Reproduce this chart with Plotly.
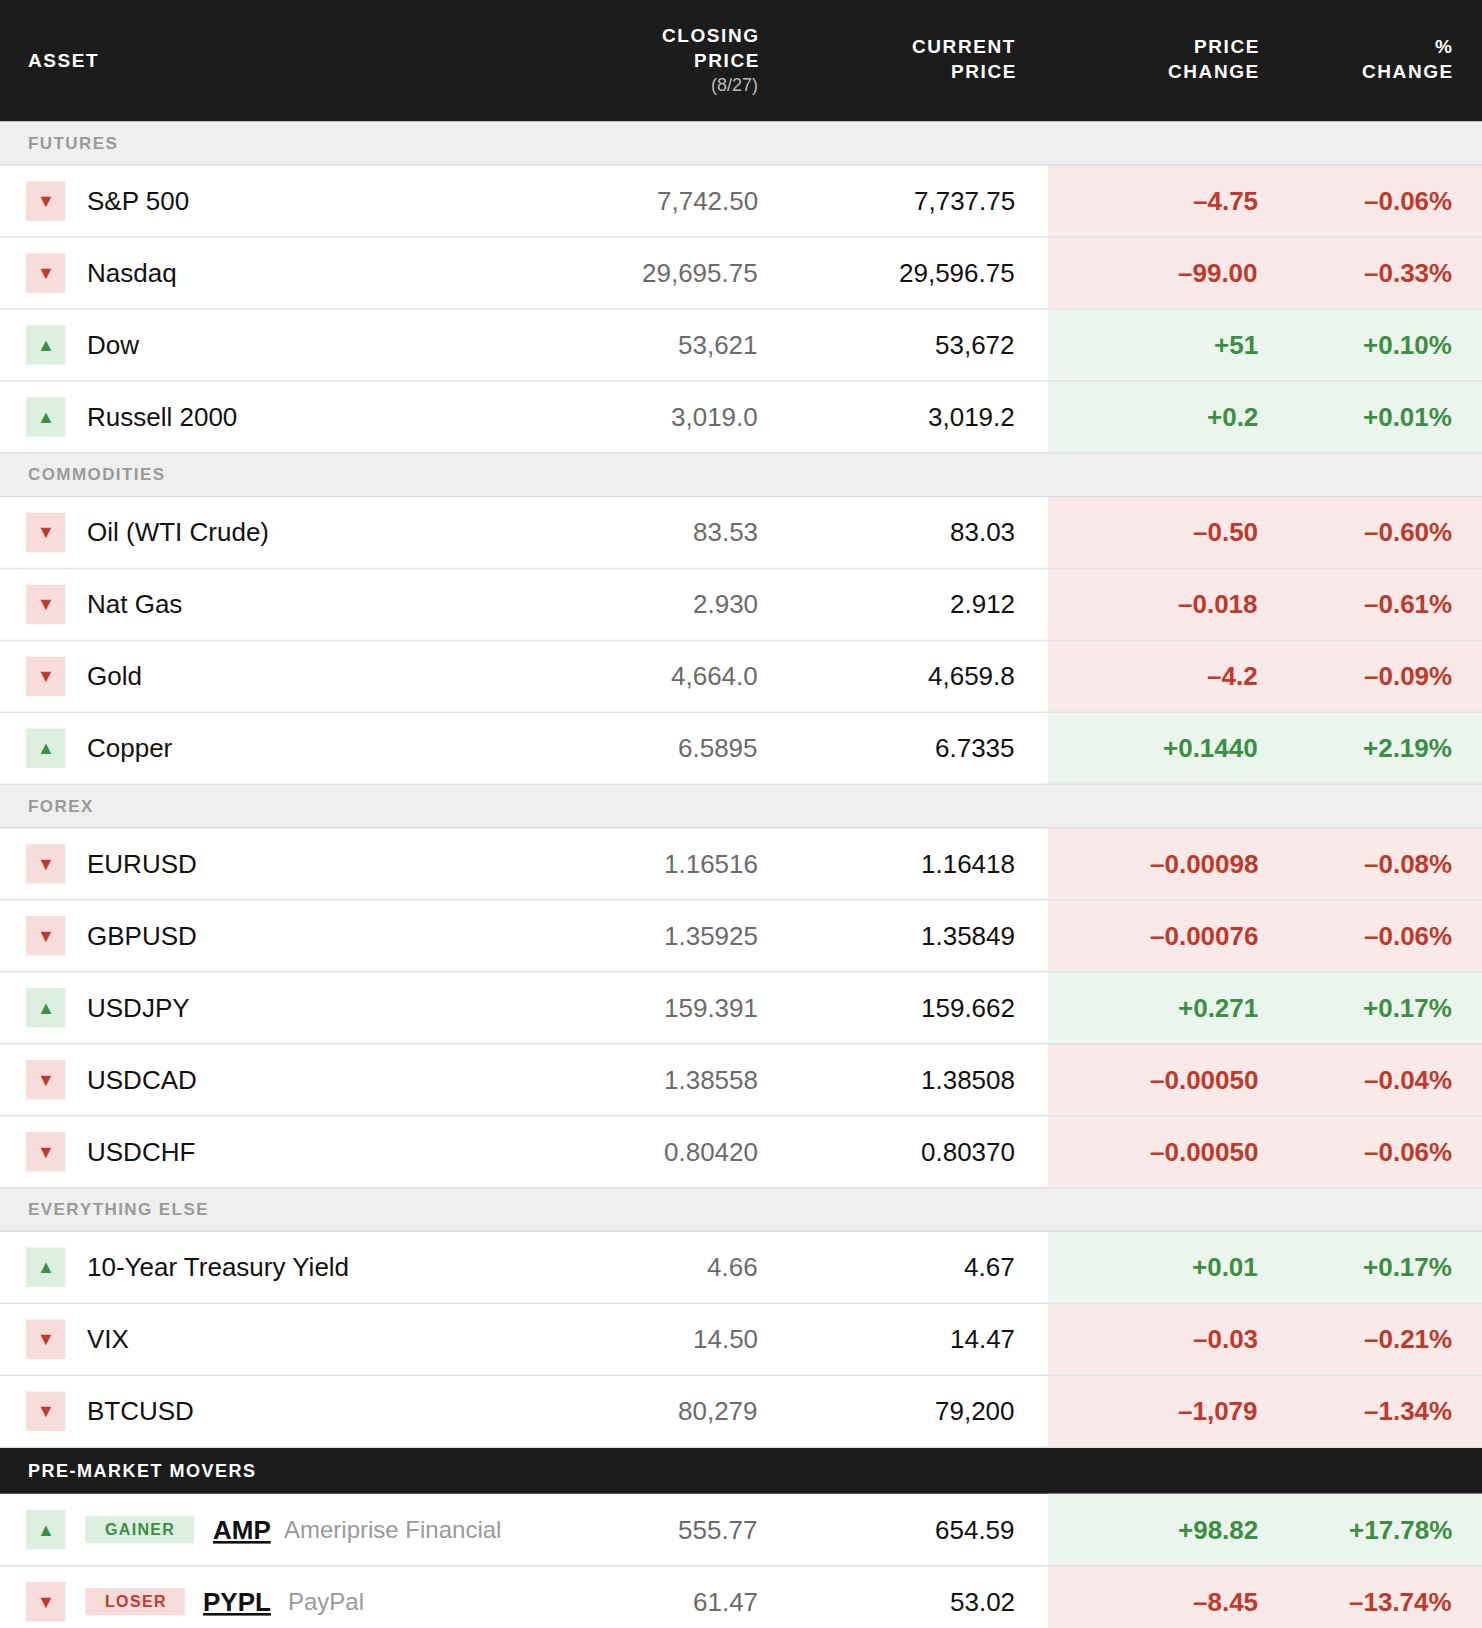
# plot_markets.py

import plotly.graph_objects as go

FONT = "Helvetica Neue, Liberation Sans, Arial"
RED = "#c0392b"
GREEN = "#3b8f42"
PINK_BG = "#f9e9e9"
GREEN_BG = "#ebf5ed"

# (section, name, closing, current, change, pct, up)
rows = [
    ("FUTURES", "S&P 500", "7,742.50", "7,737.75", "–4.75", "–0.06%", False),
    ("FUTURES", "Nasdaq", "29,695.75", "29,596.75", "–99.00", "–0.33%", False),
    ("FUTURES", "Dow", "53,621", "53,672", "+51", "+0.10%", True),
    ("FUTURES", "Russell 2000", "3,019.0", "3,019.2", "+0.2", "+0.01%", True),
    ("COMMODITIES", "Oil (WTI Crude)", "83.53", "83.03", "–0.50", "–0.60%", False),
    ("COMMODITIES", "Nat Gas", "2.930", "2.912", "–0.018", "–0.61%", False),
    ("COMMODITIES", "Gold", "4,664.0", "4,659.8", "–4.2", "–0.09%", False),
    ("COMMODITIES", "Copper", "6.5895", "6.7335", "+0.1440", "+2.19%", True),
    ("FOREX", "EURUSD", "1.16516", "1.16418", "–0.00098", "–0.08%", False),
    ("FOREX", "GBPUSD", "1.35925", "1.35849", "–0.00076", "–0.06%", False),
    ("FOREX", "USDJPY", "159.391", "159.662", "+0.271", "+0.17%", True),
    ("FOREX", "USDCAD", "1.38558", "1.38508", "–0.00050", "–0.04%", False),
    ("FOREX", "USDCHF", "0.80420", "0.80370", "–0.00050", "–0.06%", False),
    ("EVERYTHING ELSE", "10-Year Treasury Yield", "4.66", "4.67", "+0.01", "+0.17%", True),
    ("EVERYTHING ELSE", "VIX", "14.50", "14.47", "–0.03", "–0.21%", False),
    ("EVERYTHING ELSE", "BTCUSD", "80,279", "79,200", "–1,079", "–1.34%", False),
]

# pre-market movers: (badge, ticker, company, closing, current, change, pct, up)
movers = [
    ("GAINER", "AMP", "Ameriprise Financial", "555.77", "654.59", "+98.82", "+17.78%", True),
    ("LOSER", "PYPL", "PayPal", "61.47", "53.02", "–8.45", "–13.74%", False),
]

W, H = 1427, 1568  # drawing units
HEADER_H, SECTION_H, ROW_H, MOVERS_H = 117, 42, 69.3, 45


def spaced(text: str) -> str:
    """Fake letter spacing with thin spaces."""
    return "\u200a".join(text)


def add_text(fig, x, y, text, size, color, anchor="left", bold=False):
    """Add one annotation in data units."""
    if bold:
        text = f"<b>{text}</b>"
    fig.add_annotation(x=x, y=y, text=text, showarrow=False, xanchor=anchor, yanchor="middle",
                       font=dict(family=FONT, size=size, color=color))


def add_rect(fig, x0, y0, x1, y1, color):
    fig.add_shape(type="rect", x0=x0, y0=y0, x1=x1, y1=y1, line=dict(width=0),
                  fillcolor=color, layer="below")


def add_price_row(fig, y0, up, closing, current, change, pct):
    """Icon, prices and coloured change cells of one row."""
    yc = y0 + ROW_H / 2
    colour = GREEN if up else RED
    add_rect(fig, 1009, y0, W, y0 + ROW_H, GREEN_BG if up else PINK_BG)
    add_rect(fig, 25, yc - 19, 63, yc + 19, "#dcefe0" if up else "#f8dcdc")
    add_text(fig, 44, yc, "▲" if up else "▼", 18, colour, anchor="center")
    add_text(fig, 732, yc, closing, 26, "#6b6b6b", anchor="right")
    add_text(fig, 979, yc, current, 26, "#111111", anchor="right")
    add_text(fig, 1213, yc, change, 26, colour, anchor="right", bold=True)
    add_text(fig, 1400, yc, pct, 26, colour, anchor="right", bold=True)
    fig.add_shape(type="line", x0=0, x1=W, y0=y0 + ROW_H, y1=y0 + ROW_H,
                  line=dict(color="#e3e3e3", width=1.5))


fig = go.Figure()

# Header bar
add_rect(fig, 0, 0, W, HEADER_H, "#1c1c1c")
add_text(fig, 25, 58, spaced("ASSET"), 19, "white", bold=True)
add_text(fig, 732, 34, spaced("CLOSING"), 19, "white", anchor="right", bold=True)
add_text(fig, 732, 58, spaced("PRICE"), 19, "white", anchor="right", bold=True)
add_text(fig, 732, 82, "(8/27)", 18, "#bbbbbb", anchor="right")
add_text(fig, 979, 45, spaced("CURRENT"), 19, "white", anchor="right", bold=True)
add_text(fig, 979, 69, spaced("PRICE"), 19, "white", anchor="right", bold=True)
add_text(fig, 1213, 45, spaced("PRICE"), 19, "white", anchor="right", bold=True)
add_text(fig, 1213, 69, spaced("CHANGE"), 19, "white", anchor="right", bold=True)
add_text(fig, 1400, 45, "%", 19, "white", anchor="right", bold=True)
add_text(fig, 1400, 69, spaced("CHANGE"), 19, "white", anchor="right", bold=True)

y = HEADER_H
section = None
for sec, name, closing, current, change, pct, up in rows:
    if sec != section:
        section = sec
        add_rect(fig, 0, y, W, y + SECTION_H, "#efefef")
        add_text(fig, 25, y + SECTION_H / 2, spaced(sec), 17, "#9a9a9a", bold=True)
        fig.add_shape(type="line", x0=0, x1=W, y0=y + SECTION_H, y1=y + SECTION_H,
                      line=dict(color="#dddddd", width=1.5))
        y += SECTION_H
    add_price_row(fig, y, up, closing, current, change, pct)
    add_text(fig, 82, y + ROW_H / 2, name, 26, "#111111")
    y += ROW_H

# Pre-market movers
add_rect(fig, 0, y, W, y + MOVERS_H, "#1c1c1c")
add_text(fig, 25, y + MOVERS_H / 2, spaced("PRE-MARKET MOVERS"), 18, "white", bold=True)
y += MOVERS_H
for badge, ticker, company, closing, current, change, pct, up in movers:
    yc = y + ROW_H / 2
    add_price_row(fig, y, up, closing, current, change, pct)
    bw = 105 if up else 96
    fig.add_shape(type="rect", x0=82, x1=82 + bw, y0=yc - 13, y1=yc + 13, line=dict(width=0),
                  fillcolor="#dcefe0" if up else "#f8dcdc", layer="below")
    add_text(fig, 82 + bw / 2, yc, spaced(badge), 16, GREEN if up else RED, anchor="center", bold=True)
    tx = 82 + bw + 16
    add_text(fig, tx, yc, f"<u>{ticker}</u>", 26, "#111111", bold=True)
    add_text(fig, tx + 69 if up else tx + 81, yc, company, 24, "#9a9a9a")
    y += ROW_H

fig.update_xaxes(range=[0, W], visible=False, fixedrange=True)
fig.update_yaxes(range=[H, 0], visible=False, fixedrange=True)
fig.update_layout(
    width=1482,
    height=1628,
    margin=dict(l=0, r=0, t=0, b=0),
    plot_bgcolor="white",
    paper_bgcolor="white",
    showlegend=False,
)

fig.write_html("out.html", config={"displayModeBar": False},
               post_script="document.body.style.margin='0';")
